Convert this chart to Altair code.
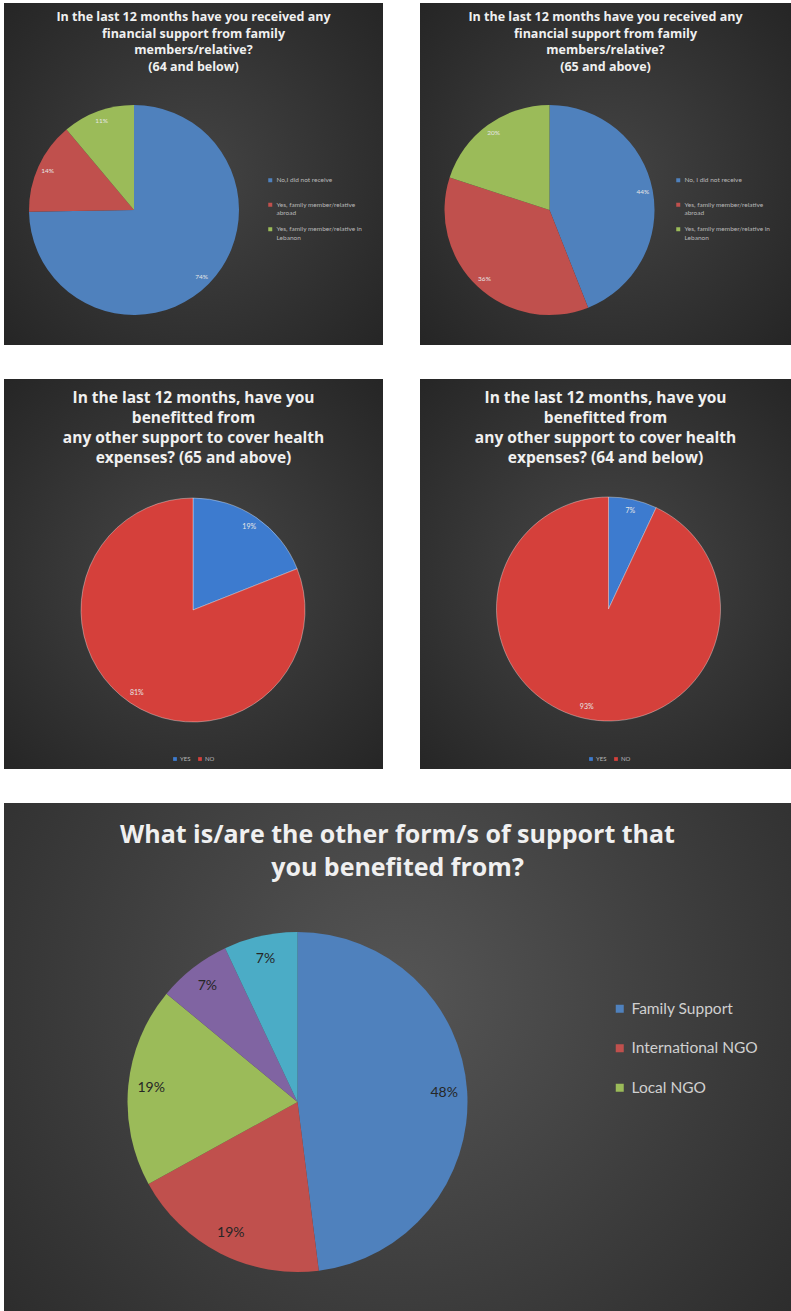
import altair as alt
import pandas as pd

# ---------------- data ----------------
tl_title = ["In the last 12 months have you received any", "financial support from family",
            "members/relative?", "(64 and below)"]
tl_cats = ["No,I did not receive", "Yes, family member/relative abroad",
           "Yes, family member/relative in Lebanon"]
tl_vals = [74, 14, 11]

tr_title = ["In the last 12 months have you received any", "financial support from family",
            "members/relative?", "(65 and above)"]
tr_cats = ["No, I did not receive", "Yes, family member/relative abroad",
           "Yes, family member/relative in Lebanon"]
tr_vals = [44, 36, 20]

ml_title = ["In the last 12 months, have you", "benefitted from",
            "any other support to cover health", "expenses? (65 and above)"]
mr_title = ["In the last 12 months, have you", "benefitted from",
            "any other support to cover health", "expenses? (64 and below)"]
yn_cats = ["YES", "NO"]
ml_vals = [19, 81]
mr_vals = [7, 93]

b_title = ["What is/are the other form/s of support that", "you benefited from?"]
b_cats = ["Family Support", "International NGO", "Local NGO", "Other A", "Other B"]
b_vals = [48, 19, 19, 7, 7]
b_legend = ["Family Support", "International NGO", "Local NGO"]

excel_colors = ["#4F81BD", "#C0504D", "#9BBB59", "#8064A2", "#4BACC6"]
yn_colors = ["#3D7BCF", "#D5403B"]

FONT = "Lato"
TFONT = "Open Sans"
WRAP = ("lastindexof(datum.label,' ') > 25 ? [slice(datum.label,0,lastindexof(datum.label,' ')),"
        " slice(datum.label,lastindexof(datum.label,' ')+1)] : [datum.label, '']")


def bg_layer(W, H, c0, c1, r2=0.75, cy=0.5):
    grad = {"gradient": "radial",
            "stops": [{"offset": 0, "color": c0}, {"offset": 1, "color": c1}],
            "x1": 0.5, "y1": cy, "r1": 0, "x2": 0.5, "y2": cy, "r2": r2}
    return alt.Chart(alt.Data(values=[{"k": 1}])).mark_rect(fill=grad, strokeWidth=0).encode(
        x=alt.value(0), x2=alt.value(W), y=alt.value(0), y2=alt.value(H))


def title_layer(lines, W, y, size, lh, color="#f0f0f0"):
    return alt.Chart(alt.Data(values=[{"t": "\n".join(lines)}])).mark_text(
        align="center", baseline="top", lineBreak="\n", lineHeight=lh, font=TFONT,
        fontWeight="bold", fontSize=size, color=color).encode(
        x=alt.value(W / 2), y=alt.value(y), text="t:N")


def pie_panel(cats, vals, colors, W, H, cx, cy, r, title, ty, tsize, tlh,
              lr, lsize, lcolor, legend, bg, stroke=None):
    df = pd.DataFrame({"cat": cats, "value": vals, "idx": list(range(len(cats)))})
    base = alt.Chart(df).encode(
        theta=alt.Theta("value:Q", stack=True),
        order=alt.Order("idx:Q"),
        x=alt.value(cx), y=alt.value(cy))
    arc_kw = dict(radius=r)
    if stroke:
        arc_kw.update(stroke=stroke[0], strokeWidth=stroke[1], strokeOpacity=stroke[2])
    else:
        arc_kw.update(strokeWidth=0)
    arcs = base.mark_arc(**arc_kw).encode(
        color=alt.Color("cat:N", scale=alt.Scale(domain=cats, range=colors),
                        sort=cats, legend=legend))
    labels = base.transform_calculate(lbl="format(datum.value,'d') + '%'").mark_text(
        radius=lr, font=FONT, fontSize=lsize, color=lcolor, align="center",
        baseline="middle").encode(text="lbl:N")
    return alt.layer(bg_layer(W, H, *bg), title_layer(title, W, ty, tsize, tlh),
                     arcs, labels).properties(width=W, height=H)


def small_legend(x, y):
    return alt.Legend(orient="none", legendX=x, legendY=y, title=None, padding=0,
                      symbolType="square", symbolSize=16, symbolStrokeWidth=0,
                      labelFont=FONT, labelFontSize=6.5, labelColor="#b8b8b8",
                      labelOffset=3, rowPadding=8.5, labelExpr=WRAP, labelLimit=200)


def yn_legend(x, y):
    return alt.Legend(orient="none", legendX=x, legendY=y, title=None, padding=0,
                      direction="horizontal", symbolType="square", symbolSize=14,
                      symbolStrokeWidth=0, labelFont=FONT, labelFontSize=6,
                      labelColor="#b8b8b8", labelOffset=2, columnPadding=6)


TW1, TW2, TH = 379, 371, 342
MH = 390

p1 = pie_panel(tl_cats, tl_vals, excel_colors[:3], TW1, TH, 130, 207, 105,
               tl_title, 8, 12.5, 16.5, 95, 6.5, "#e6e6e6",
               small_legend(263, 174), ("#444444", "#222222"))
p2 = pie_panel(tr_cats, tr_vals, excel_colors[:3], TW2, TH, 129.5, 207, 105,
               tr_title, 8, 12.5, 16.5, 95, 6.5, "#e6e6e6",
               small_legend(255, 174), ("#444444", "#222222"))
p3 = pie_panel(yn_cats, ml_vals, yn_colors, TW1, MH, 189, 231, 112,
               ml_title, 11.5, 15.5, 20, 100, 7, "#e6e6e6",
               yn_legend(168, 377), ("#474747", "#232323"),
               stroke=("#ffffff", 1, 0.35))
p4 = pie_panel(yn_cats, mr_vals, yn_colors, TW2, MH, 188.5, 230, 112,
               mr_title, 11.5, 15.5, 20, 100, 7, "#e6e6e6",
               yn_legend(168, 377), ("#474747", "#232323"),
               stroke=("#ffffff", 1, 0.35))
p5 = pie_panel(b_cats, b_vals, excel_colors, 787, 508, 293.5, 299, 170,
               b_title, 20, 25, 33, 147, 14, "#262626",
               alt.Legend(orient="none", legendX=608, legendY=198, title=None, padding=0,
                          values=b_legend, symbolType="square", symbolSize=64,
                          symbolStrokeWidth=0, labelFont=FONT, labelFontSize=15.5,
                          labelColor="#d0d0d0", labelOffset=4, rowPadding=22.5),
               ("#555555", "#262626", 0.75, 0.42))

top = alt.hconcat(p1, p2, spacing=37).resolve_scale(color="independent")
mid = alt.hconcat(p3, p4, spacing=37).resolve_scale(color="independent")
chart = alt.vconcat(top, mid, p5, spacing=34).resolve_scale(color="independent").properties(
    padding={"left": 4, "top": 3, "right": 0, "bottom": 0}, background="white"
).configure_view(stroke=None)

chart.save("out.html", embed_options={"renderer": "svg", "actions": False})
